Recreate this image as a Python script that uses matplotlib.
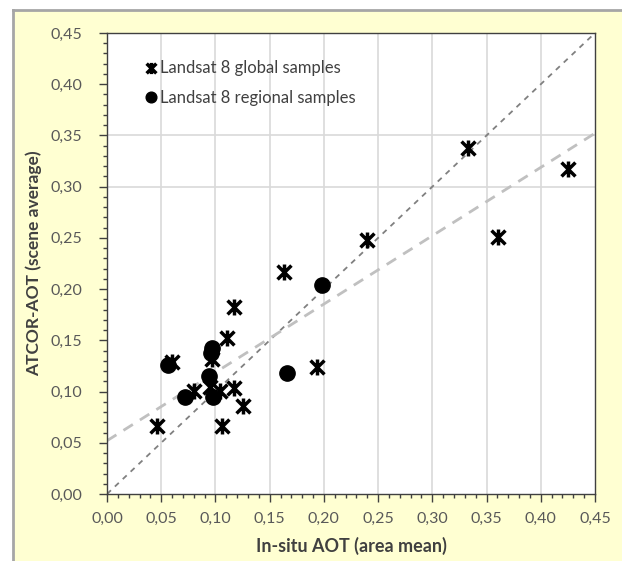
import matplotlib
matplotlib.use("Agg")
import matplotlib.pyplot as plt
from matplotlib.path import Path
from matplotlib.patches import Rectangle
from matplotlib.lines import Line2D

plt.rcParams['font.family'] = ['Lato', 'DejaVu Sans']

# global samples (star markers)
global_x = [0.333, 0.425, 0.361, 0.240, 0.163, 0.117, 0.111, 0.194, 0.060,
            0.097, 0.080, 0.095, 0.104, 0.117, 0.125, 0.106, 0.046]
global_y = [0.338, 0.317, 0.251, 0.248, 0.217, 0.183, 0.152, 0.124, 0.129,
            0.132, 0.101, 0.104, 0.101, 0.103, 0.086, 0.066, 0.066]

# regional samples (filled circles)
regional_x = [0.097, 0.096, 0.056, 0.094, 0.072, 0.098, 0.166, 0.198]
regional_y = [0.143, 0.138, 0.126, 0.115, 0.095, 0.095, 0.118, 0.204]

# fitted trend
trend_intercept = 0.052
trend_slope = 0.667
one_to_one = [0.0, 0.45]

ticks = [0.00, 0.05, 0.10, 0.15, 0.20, 0.25, 0.30, 0.35, 0.40, 0.45]
tick_labels = ['0,00', '0,05', '0,10', '0,15', '0,20', '0,25', '0,30', '0,35', '0,40', '0,45']
hgrid = [0.30, 0.35]

star = Path([(-1, -1), (1, 1), (-1, 1), (1, -1), (0, -1.15), (0, 1.15)],
            [Path.MOVETO, Path.LINETO, Path.MOVETO, Path.LINETO, Path.MOVETO, Path.LINETO])

fig = plt.figure(figsize=(6.22, 5.61), dpi=100)
fig.patch.set_facecolor('white')
fig.patches.append(Rectangle((14/622, 0), 1, 1 - 11/561, transform=fig.transFigure,
                             facecolor='#FFFFD2', edgecolor='none', zorder=-2))
fig.lines.append(Line2D([13/622, 13/622], [0, 1 - 10/561], transform=fig.transFigure,
                        color='#A6A6A6', lw=2, zorder=-1))
fig.lines.append(Line2D([13/622, 1], [1 - 10/561, 1 - 10/561], transform=fig.transFigure,
                        color='#A6A6A6', lw=2, zorder=-1))

ax = fig.add_axes([107/622, 67/561, 488/622, 461/561])
ax.set_facecolor('white')

for t in ticks[1:-1]:
    ax.axvline(t, color='#D9D9D9', lw=1.2, zorder=1)
for t in hgrid:
    ax.axhline(t, color='#D9D9D9', lw=1.2, zorder=1)

ax.plot(one_to_one, one_to_one, color='#808080', lw=1.3, ls=(0, (3, 3)), zorder=2)
xs = [0.0, 0.45]
ax.plot(xs, [trend_intercept + trend_slope * v for v in xs], color='#C0C0C0', lw=2,
        ls=(0, (4, 3)), zorder=2)

ax.plot(global_x, global_y, ls='none', marker=star, ms=11.5, mew=2.5, color='black',
        zorder=3, label='Landsat 8 global samples')
ax.plot(regional_x, regional_y, ls='none', marker='o', ms=11, color='black',
        zorder=3, label='Landsat 8 regional samples')

ax.set_xlim(0, 0.45)
ax.set_ylim(0, 0.45)
ax.set_xticks(ticks)
ax.set_xticklabels(tick_labels)
ax.set_yticks(ticks)
ax.set_yticklabels(tick_labels)
ax.set_xticks([i / 100 for i in range(46)], minor=True)
ax.set_yticks([i / 100 for i in range(46)], minor=True)
ax.tick_params(axis='both', which='major', length=6, width=1, color='#404040',
               labelsize=11.5, labelcolor='#595959', direction='out')
ax.tick_params(axis='both', which='minor', length=3, width=1, color='#404040',
               direction='out')
ax.tick_params(axis='x', pad=7)
ax.tick_params(axis='y', pad=12)
for s in ax.spines.values():
    s.set_color('#404040')
    s.set_linewidth(1)

ax.set_xlabel('In-situ AOT (area mean)', fontsize=13, fontweight='bold',
              color='#404040', labelpad=8)
ax.set_ylabel('ATCOR-AOT (scene average)', fontsize=12.5, fontweight='bold',
              color='#404040', labelpad=6)

leg = ax.legend(loc='upper left', bbox_to_anchor=(0.06, 0.955), frameon=False,
                fontsize=12, handletextpad=0.05, handlelength=1.0, markerscale=0.7,
                labelspacing=0.8, borderaxespad=0)
for txt in leg.get_texts():
    txt.set_color('#404040')

fig.savefig('out.png', dpi=100)
